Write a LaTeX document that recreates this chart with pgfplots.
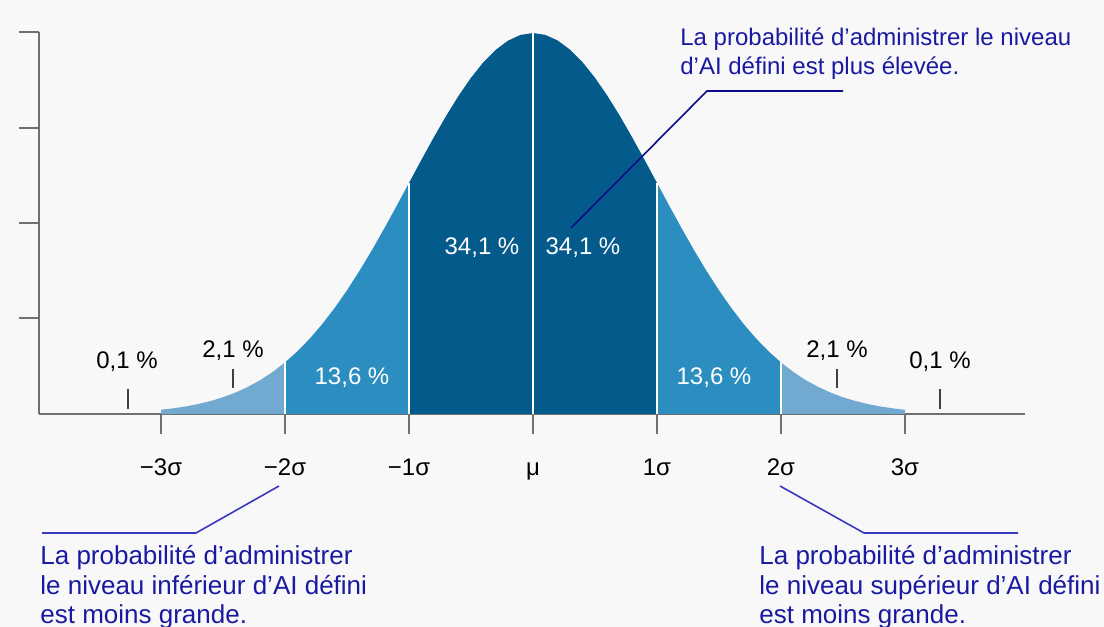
\documentclass[border=0pt]{standalone}
\usepackage{fontspec}
\setmainfont{Liberation Sans}
\usepackage{pgfplots}
\pgfplotsset{compat=1.18}
\definecolor{bg}{HTML}{F8F8F9}
\definecolor{cdark}{HTML}{055A8C}
\definecolor{cmid}{HTML}{2C8DC0}
\definecolor{clight}{HTML}{71A9D0}
\definecolor{axgray}{HTML}{707070}
\definecolor{navy}{HTML}{1A1AA0}
\definecolor{navyline}{HTML}{0C0C88}
\definecolor{blueline}{HTML}{3838C0}
\newcommand\F{\fontsize{12}{14.75}\selectfont}
\newcommand\G{\fontsize{13}{14.75}\selectfont}
\begin{document}
\begin{tikzpicture}
\fill[bg] (0,0) rectangle (552pt,313.5pt);
\begin{axis}[
  at={(19.5pt,106.5pt)}, anchor=south west,
  scale only axis, width=493pt, height=191pt,
  xmin=-3.984, xmax=3.968, ymin=0, ymax=0.4,
  axis lines=left, axis line style={-, draw=axgray, line width=1pt},
  xtick={-3,-2,-1,0,1,2,3},
  xticklabels={−3σ,−2σ,−1σ,μ,1σ,2σ,3σ},
  ytick={0.1,0.2,0.3,0.4}, yticklabels={},
  tick align=outside, major tick length=10pt,
  tick style={draw=axgray, line width=1pt},
  xticklabel style={font=\F, text=black, anchor=north, text height=9pt, text depth=3pt, yshift=-8pt},
  clip=false,
]
% light left tail
\addplot[fill=clight, draw=none] coordinates {
(-3.0,0.00443)(-2.9,0.00595)(-2.8,0.00792)(-2.7,0.01042)(-2.6,0.01358)
(-2.5,0.01753)(-2.4,0.02239)(-2.3,0.02833)(-2.2,0.03547)(-2.1,0.04398)(-2.0,0.05399)} \closedcycle;
% medium left
\addplot[fill=cmid, draw=none] coordinates {
(-2.0,0.05399)(-1.9,0.06562)(-1.8,0.07895)(-1.7,0.09405)(-1.6,0.11092)
(-1.5,0.12952)(-1.4,0.14973)(-1.3,0.17137)(-1.2,0.19419)(-1.1,0.21785)(-1.0,0.24197)} \closedcycle;
% dark centre
\addplot[fill=cdark, draw=none] coordinates {
(-1.0,0.24197)(-0.9,0.26609)(-0.8,0.28969)(-0.7,0.31225)(-0.6,0.33322)
(-0.5,0.35207)(-0.4,0.36827)(-0.3,0.38139)(-0.2,0.39104)(-0.1,0.39695)
(0.0,0.39894)(0.1,0.39695)(0.2,0.39104)(0.3,0.38139)(0.4,0.36827)
(0.5,0.35207)(0.6,0.33322)(0.7,0.31225)(0.8,0.28969)(0.9,0.26609)(1.0,0.24197)} \closedcycle;
% medium right
\addplot[fill=cmid, draw=none] coordinates {
(1.0,0.24197)(1.1,0.21785)(1.2,0.19419)(1.3,0.17137)(1.4,0.14973)
(1.5,0.12952)(1.6,0.11092)(1.7,0.09405)(1.8,0.07895)(1.9,0.06562)(2.0,0.05399)} \closedcycle;
% light right tail
\addplot[fill=clight, draw=none] coordinates {
(2.0,0.05399)(2.1,0.04398)(2.2,0.03547)(2.3,0.02833)(2.4,0.02239)
(2.5,0.01753)(2.6,0.01358)(2.7,0.01042)(2.8,0.00792)(2.9,0.00595)(3.0,0.00443)} \closedcycle;
% white separators
\addplot[white, line width=1pt] coordinates {(-2,0)(-2,0.05399)};
\addplot[white, line width=1pt] coordinates {(-1,0)(-1,0.24197)};
\addplot[white, line width=1pt] coordinates {(0,0)(0,0.39894)};
\addplot[white, line width=1pt] coordinates {(1,0)(1,0.24197)};
\addplot[white, line width=1pt] coordinates {(2,0)(2,0.05399)};
\end{axis}
\begin{scope}[shift={(0,313.5pt)}, x=0.5pt, y=-0.5pt]
  % percentages
  \node[text=white, font=\F] at (482,248) {34,1 \%};
  \node[text=white, font=\F] at (583,248) {34,1 \%};
  \node[text=white, font=\F] at (352,378) {13,6 \%};
  \node[text=white, font=\F] at (714,378) {13,6 \%};
  \node[font=\F] at (233,351) {2,1 \%};
  \node[font=\F] at (837,351) {2,1 \%};
  \node[font=\F] at (127,362) {0,1 \%};
  \node[font=\F] at (940,362) {0,1 \%};
  \draw[black!75, line width=0.75pt] (128,389)--(128,409) (233,369)--(233,388)
       (837,369)--(837,388) (940,389)--(940,409);
  % annotations
  \draw[navyline, line width=0.8pt] (571,228)--(707,91)--(843,91);
  \node[text=navy, font=\F, align=left, anchor=north west, inner sep=0pt] at (680,27)
    {La probabilité d’administrer le niveau\\d’AI défini est plus élevée.};
  \draw[blueline, line width=0.8pt] (42,533)--(196,533)--(279,486);
  \node[text=navy, font=\G, align=left, anchor=north west, inner sep=0pt] at (40,545)
    {La probabilité d’administrer\\le niveau inférieur d’AI défini\\est moins grande.};
  \draw[blueline, line width=0.8pt] (780,486)--(864,533)--(1018,533);
  \node[text=navy, font=\G, align=left, anchor=north west, inner sep=0pt] at (759,545)
    {La probabilité d’administrer\\le niveau supérieur d’AI défini\\est moins grande.};
\end{scope}
\pgfresetboundingbox
\path[use as bounding box] (0,0) rectangle (552pt,313.5pt);
\end{tikzpicture}
\end{document}
